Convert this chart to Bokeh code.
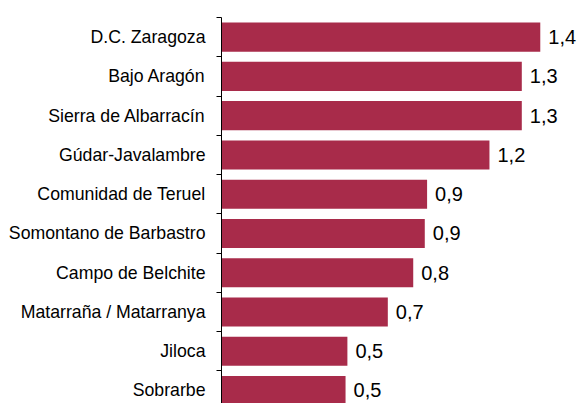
from bokeh.plotting import figure
from bokeh.models import Range1d, FixedTicker, ColumnDataSource
from bokeh.embed import file_html
from bokeh.resources import INLINE
from bokeh.core.properties import value

categories = ["D.C. Zaragoza", "Bajo Aragón", "Sierra de Albarracín", "Gúdar-Javalambre",
              "Comunidad de Teruel", "Somontano de Barbastro", "Campo de Belchite",
              "Matarraña / Matarranya", "Jiloca", "Sobrarbe"]
values = [1.38, 1.30, 1.30, 1.16, 0.89, 0.88, 0.83, 0.72, 0.545, 0.537]

n = len(categories)
ypos = [i + 0.5 for i in range(n)]
labels = [f"{v:.1f}".replace(".", ",") for v in values]

src = ColumnDataSource(dict(y=ypos, v=values, lab=labels, cat=categories))

W, H = 580, 403
left, top = 221, 17
band_px = 39.26
px_per_unit = 231.0

p = figure(width=W, height=H, output_backend="svg", toolbar_location=None,
           x_axis_location=None,
           x_range=Range1d(0, (W - left) / px_per_unit),
           y_range=Range1d((H - top) / band_px, 0),
           min_border_left=left, min_border_top=top, min_border_bottom=0, min_border_right=0)
p.outline_line_color = None
p.grid.visible = False
p.background_fill_color = "white"
p.border_fill_color = "white"

p.hbar(y="y", right="v", left=0, height=0.74, source=src,
       fill_color="#A82B4A", line_color=None)

p.text(x="v", y="y", text="lab", source=src, x_offset=8,
       text_align="left", text_baseline="middle",
       text_font=value("Liberation Sans"), text_font_size="20px", text_color="black")

ax = p.yaxis[0]
ax.ticker = FixedTicker(ticks=ypos, minor_ticks=list(range(n + 1)))
ax.major_label_overrides = {y: c for y, c in zip(ypos, categories)}
ax.major_tick_line_color = None
ax.major_tick_out = 0
ax.major_tick_in = 0
ax.minor_tick_out = 5
ax.minor_tick_in = 0
ax.minor_tick_line_color = "black"
ax.axis_line_color = "black"
ax.major_label_standoff = 11
ax.major_label_text_font = "Liberation Sans"
ax.major_label_text_font_size = "17.7px"
ax.major_label_text_color = "black"

open("out.html", "w").write(file_html(p, INLINE))
